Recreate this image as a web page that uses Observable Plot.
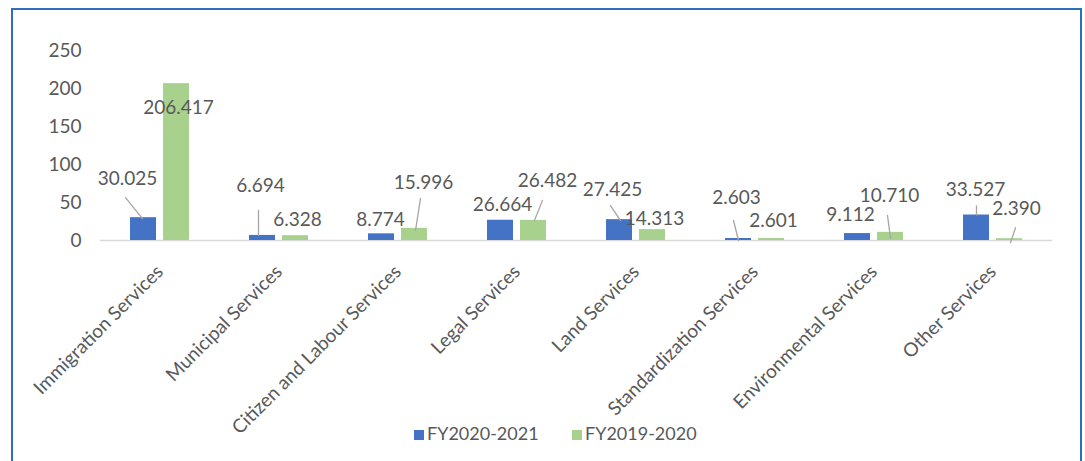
<!DOCTYPE html>
<html><head><meta charset="utf-8">
<script src="https://cdn.jsdelivr.net/npm/d3@7"></script>
<script src="https://cdn.jsdelivr.net/npm/@observablehq/plot@0.6"></script>
<style>
body{margin:0;background:#fff;font-family:Lato,sans-serif;}
#wrap{position:relative;width:1085px;height:461px;overflow:hidden;background:#fff;}
#frame{position:absolute;left:11px;top:8px;width:1071px;height:480px;border:2px solid #2f6fba;box-sizing:border-box;pointer-events:none;}
#chart{position:absolute;left:0;top:0;}
.lg{position:absolute;top:423px;font-size:18px;color:#595959;line-height:20px;white-space:nowrap;}
.sw{display:inline-block;width:10px;height:10px;margin-right:3px;vertical-align:0px;}
</style></head>
<body>
<div id="wrap">
  <div id="chart"></div>
  <div id="frame"></div>
  <div id="legend"></div>
</div>
<script>
const categories = ["Immigration Services","Municipal Services","Citizen and Labour Services","Legal Services","Land Services","Standardization Services","Environmental Services","Other Services"];
const series = ["FY2020-2021","FY2019-2020"];
const colors = ["#4472c4","#a9d18e"];
const fy2021 = [30.025, 6.694, 8.774, 26.664, 27.425, 2.603, 9.112, 33.527];
const fy2020 = [206.417, 6.328, 15.996, 26.482, 14.313, 2.601, 10.710, 2.390];
const yTicks = [0, 50, 100, 150, 200, 250];

// label placement (px offsets from bar top centre)
const labelOffBlue  = [[-16,-39],[-2,-50],[-1,-14],[2,-15],[-7,-30],[-2,-41],[-7,-19],[-1,-25]];
const labelOffGreen = [[2,24],[2,-16],[9,-45],[14,-39],[2,-11],[2,-18],[-1,-36],[7,-30]];
// leader lines [startDx,startDy,endDx,endDy] from bar top centre
const leaderBlue  = [[-1,1,-18,-20],[-4,0,-4,-25],null,null,[1,1,-9,-14],[0,2,-5,-18],null,[0,0,0,-9]];
const leaderGreen = [null,null,[1,2,6,-30],[1,0,9,-20],null,null,[0,6,-3,-17],[1,4,6,-11]];

const rows = categories.map((c,i)=>({category:c, fy2021:fy2021[i], fy2020:fy2020[i]}));
const keys = ["fy2021","fy2020"];

const W = 1085, H = 461;
const mL = 100, mR = 33, mT = 50, mB = 221;
const step = (W - mL - mR) / categories.length;
const barW = 26, off = 16.5;
const inset = (step - barW) / 2;
const lineShape = {draw(context, l){ context.moveTo(0,0); context.lineTo(0,-l); }};

const marks = [
  Plot.ruleY([0], {stroke:"#d9d9d9", strokeWidth:1.3}),
  ...keys.map((k,s)=>Plot.barY(rows, {x:"category", y:k, fill:colors[s], dx: s===0?-off:off, insetLeft:inset, insetRight:inset})),
  Plot.axisY({ticks:yTicks, tickSize:0, tickPadding:19, fontSize:19, fill:"#595959", label:null}),
  Plot.axisX({tickRotate:-45, tickSize:0, tickPadding:28, fontSize:19, fill:"#595959", label:null})
];

keys.forEach((k,s)=>{
  const base = s===0?-off:off;
  const lo = s===0?labelOffBlue:labelOffGreen;
  const ld = s===0?leaderBlue:leaderGreen;
  rows.forEach((r,i)=>{
    const L = ld[i];
    if (L) {
      const ddx = L[2]-L[0], ddy = L[3]-L[1];
      marks.push(Plot.vector([r], {x:"category", y:k, dx: base + L[0], dy: L[1],
        length: Math.hypot(ddx,ddy), rotate: Math.atan2(ddx,-ddy)*180/Math.PI,
        anchor:"start", shape: lineShape, stroke:"#a6a6a6", strokeWidth:1.3}));
    }
    marks.push(Plot.text([r], {x:"category", y:k, text: d=>d[k].toFixed(3),
      dx: base + lo[i][0], dy: lo[i][1], fontSize:19, fill:"#595959"}));
  });
});

const chart = Plot.plot({
  width: W, height: H,
  marginLeft: mL, marginRight: mR, marginTop: mT, marginBottom: mB,
  style: {fontFamily:"Lato, sans-serif", color:"#595959", background:"transparent"},
  x: {domain: categories, padding: 0, axis: null, label: null},
  y: {domain: [0,250], axis: null, label: null},
  marks
});
document.getElementById("chart").appendChild(chart);

const lg = document.getElementById("legend");
const lefts = [414, 572];
series.forEach((name,s)=>{
  const d = document.createElement("div");
  d.className = "lg";
  d.style.left = lefts[s] + "px";
  d.innerHTML = `<span class="sw" style="background:${colors[s]}"></span>${name}`;
  lg.appendChild(d);
});
</script>
</body></html>
